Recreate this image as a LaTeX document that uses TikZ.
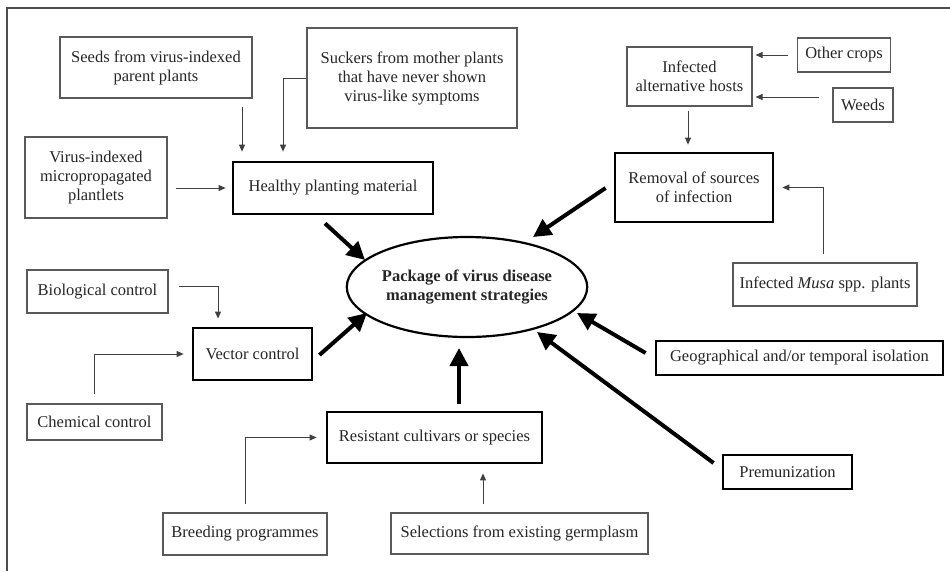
\documentclass[tikz,border=0pt]{standalone}
\usepackage{fontspec}
\setmainfont{Liberation Serif}
\usetikzlibrary{arrows.meta,calc,shapes.geometric}
\begin{document}
\begin{tikzpicture}[x=1pt,y=-1pt,
  every node/.style={font=\fontsize{16.5}{19}\selectfont, text=black!85, align=center, inner sep=0pt},
  thinbox/.style={draw=black!65, line width=1.1pt},
  thickbox/.style={draw=black, line width=2.8pt},
  tarr/.style={draw=black!75, line width=0.9pt, -{Triangle[length=7pt,width=6pt]}},
  barr/.style={draw=black, line width=4pt, -{Triangle[length=18pt,width=18pt]}}
]
\useasboundingbox (0,0) rectangle (950,571);
\fill[white] (0,0) rectangle (950,571);
\draw[line width=1.5pt, black!70] (7,571) -- (7,8) -- (950,8);

% nodes
\node[thinbox, minimum width=192pt, minimum height=61pt] (seeds) at (156,67.5) {Seeds from virus-indexed\\parent plants};
\node[thinbox, minimum width=210pt, minimum height=100pt] (suckers) at (412,78) {Suckers from mother plants\\that have never shown\\virus-like symptoms};
\node[thinbox, minimum width=142pt, minimum height=81pt] (micro) at (96,177.5) {Virus-indexed\\micropropagated\\plantlets};
\node[thickbox, minimum width=200pt, minimum height=52pt] (healthy) at (333,188) {Healthy planting material};
\node[thinbox, minimum width=125pt, minimum height=59pt] (alt) at (689.5,76.5) {Infected\\alternative hosts};
\node[thinbox, minimum width=93pt, minimum height=34pt] (other) at (844,55) {Other crops};
\node[thinbox, minimum width=60pt, minimum height=34pt] (weeds) at (863,105) {Weeds};
\node[thickbox, minimum width=158pt, minimum height=69pt] (removal) at (694,187.5) {Removal of sources\\of infection};
\node[thinbox, minimum width=184pt, minimum height=43pt] (musa) at (825,284.5) {Infected \textit{Musa} spp. plants};
\node[draw=black, ellipse, line width=2.2pt, minimum width=200pt, minimum height=100pt] (pkg) at (467,287) {\textbf{Package of virus disease}\\\textbf{management strategies}};
\node[thinbox, minimum width=141pt, minimum height=43pt] (bio) at (97.5,291.5) {Biological control};
\node[thickbox, minimum width=119pt, minimum height=52pt] (vector) at (252.5,354) {Vector control};
\node[thinbox, minimum width=135pt, minimum height=36pt] (chem) at (94.5,422) {Chemical control};
\node[thickbox, minimum width=287pt, minimum height=34pt] (geo) at (799.5,358) {Geographical and/or temporal isolation};
\node[thickbox, minimum width=215pt, minimum height=51pt] (resist) at (434.5,437.5) {Resistant cultivars or species};
\node[thickbox, minimum width=129pt, minimum height=34pt] (premun) at (787.5,472) {Premunization};
\node[thinbox, minimum width=164pt, minimum height=42pt] (breed) at (245,534) {Breeding programmes};
\node[thinbox, minimum width=257pt, minimum height=41pt] (select) at (519.5,533.5) {Selections from existing germplasm};

% thin connectors
\draw[tarr, shorten <=8pt, shorten >=9pt] ($(seeds.south)+(86,0)$) -- ($(healthy.north)+(-91,0)$);
\draw[tarr, shorten >=9pt] (suckers.west) -| ($(healthy.north)+(-50,0)$);
\draw[tarr, shorten <=8pt, shorten >=6pt] ($(micro.east)+(0,10.5)$) -- (healthy.west);
\draw[tarr, shorten <=9pt, shorten >=3pt] (other.west) -- ($(alt.east)+(0,-21.5)$);
\draw[tarr, shorten <=13pt, shorten >=3pt] ($(weeds.west)+(0,-8)$) -- ($(alt.east)+(0,20.5)$);
\draw[tarr, shorten <=4pt, shorten >=7pt] ($(alt.south)+(-1.5,0)$) -- ($(removal.north)+(-6,0)$);
\draw[tarr, shorten <=8pt, shorten >=8pt] ($(musa.north)+(-2,0)$) |- (removal.east);
\draw[tarr, shorten <=10pt, shorten >=8pt] ($(bio.east)+(0,-5.5)$) -| ($(vector.north)+(-34.5,0)$);
\draw[tarr, shorten <=9pt, shorten >=8pt] (chem.north) |- (vector.west);
\draw[tarr, shorten <=8pt, shorten >=9pt] (breed.north) |- (resist.west);
\draw[tarr, shorten <=8pt, shorten >=9pt] ($(select.north)+(-36.5,0)$) -- ($(resist.south)+(48.5,0)$);

% thick connectors
\coordinate (t1) at (365,260);
\coordinate (t2) at (533,237);
\coordinate (t3) at (367,313);
\coordinate (t4) at (577,313);
\coordinate (t5) at (537,332);
\coordinate (t6) at (459,348);
\draw[barr] ($(healthy.south)+(-8,8)$) -- (t1);
\draw[barr] ($(removal.west)+(-8,0.5)$) -- (t2);
\draw[barr] ($(vector.east)+(6,1)$) -- (t3);
\draw[barr] ($(geo.west)+(-9,-5)$) -- (t4);
\draw[barr] ($(premun.west)+(-8,-9)$) -- (t5);
\draw[barr] ($(resist.north)+(24.5,-7)$) -- (t6);
\end{tikzpicture}
\end{document}
